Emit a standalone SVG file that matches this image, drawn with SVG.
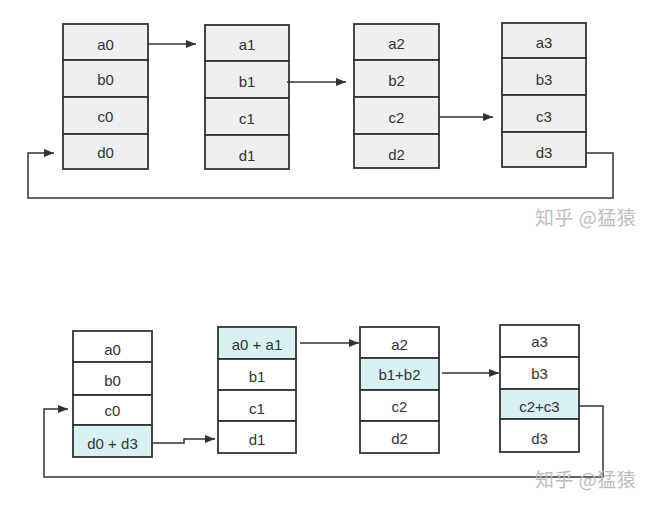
<svg xmlns="http://www.w3.org/2000/svg" width="668" height="512" viewBox="0 0 668 512">
<style>
.cell{stroke:#333;stroke-width:1.8}
.g{fill:#efefef}
.w{fill:#fff}
.c{fill:#d8f1f2}
.t{font-family:"Liberation Sans",Arial,sans-serif;font-size:15px;fill:#333;text-anchor:middle;dominant-baseline:central}
.conn{fill:none;stroke:#333;stroke-width:1.5}
.wm{font-family:"Noto Sans CJK SC","Liberation Sans",sans-serif;font-size:19px;fill:#bdbdbd;letter-spacing:0.5px}
</style>
<defs>
<marker id="ah" viewBox="0 0 10 10" refX="10" refY="5" markerWidth="10" markerHeight="10" markerUnits="userSpaceOnUse" orient="auto">
<path d="M0,1 L10,5 L0,9 Z" fill="#333"/>
</marker>
</defs>
<rect width="668" height="512" fill="#fff"/>

<g id="top0">
<rect class="cell g" x="63" y="24" width="85" height="36"/>
<rect class="cell g" x="63" y="60" width="85" height="37"/>
<rect class="cell g" x="63" y="97" width="85" height="37"/>
<rect class="cell g" x="63" y="134" width="85" height="35"/>
<text class="t" x="105.5" y="44">a0</text>
<text class="t" x="105.5" y="79">b0</text>
<text class="t" x="105.5" y="116">c0</text>
<text class="t" x="105.5" y="152">d0</text>
</g>
<g id="top1">
<rect class="cell g" x="205" y="25" width="84" height="36"/>
<rect class="cell g" x="205" y="61" width="84" height="37"/>
<rect class="cell g" x="205" y="98" width="84" height="37"/>
<rect class="cell g" x="205" y="135" width="84" height="34"/>
<text class="t" x="247" y="44">a1</text>
<text class="t" x="247" y="81">b1</text>
<text class="t" x="247" y="118">c1</text>
<text class="t" x="247" y="155">d1</text>
</g>
<g id="top2">
<rect class="cell g" x="354" y="24" width="85" height="36"/>
<rect class="cell g" x="354" y="60" width="85" height="37"/>
<rect class="cell g" x="354" y="97" width="85" height="37"/>
<rect class="cell g" x="354" y="134" width="85" height="34"/>
<text class="t" x="396.5" y="43">a2</text>
<text class="t" x="396.5" y="80">b2</text>
<text class="t" x="396.5" y="117">c2</text>
<text class="t" x="396.5" y="154">d2</text>
</g>
<g id="top3">
<rect class="cell g" x="502" y="23" width="84" height="35"/>
<rect class="cell g" x="502" y="58" width="84" height="37"/>
<rect class="cell g" x="502" y="95" width="84" height="37"/>
<rect class="cell g" x="502" y="132" width="84" height="35"/>
<text class="t" x="544" y="42">a3</text>
<text class="t" x="544" y="79">b3</text>
<text class="t" x="544" y="116">c3</text>
<text class="t" x="544" y="152">d3</text>
</g>

<g id="bot0">
<rect class="cell w" x="73" y="331" width="79" height="31"/>
<rect class="cell w" x="73" y="362" width="79" height="33"/>
<rect class="cell w" x="73" y="395" width="79" height="30"/>
<rect class="cell c" x="73" y="425" width="79" height="32"/>
<text class="t" x="112.5" y="349">a0</text>
<text class="t" x="112.5" y="380">b0</text>
<text class="t" x="112.5" y="410">c0</text>
<text class="t" x="112.5" y="443">d0 + d3</text>
</g>
<g id="bot1">
<rect class="cell c" x="218" y="327" width="78" height="32"/>
<rect class="cell w" x="218" y="359" width="78" height="31"/>
<rect class="cell w" x="218" y="390" width="78" height="31"/>
<rect class="cell w" x="218" y="421" width="78" height="32"/>
<text class="t" x="257" y="344">a0 + a1</text>
<text class="t" x="257" y="376">b1</text>
<text class="t" x="257" y="408">c1</text>
<text class="t" x="257" y="439">d1</text>
</g>
<g id="bot2">
<rect class="cell w" x="360" y="327" width="79" height="31"/>
<rect class="cell c" x="360" y="358" width="79" height="32"/>
<rect class="cell w" x="360" y="390" width="79" height="31"/>
<rect class="cell w" x="360" y="421" width="79" height="32"/>
<text class="t" x="399.5" y="344">a2</text>
<text class="t" x="399.5" y="374">b1+b2</text>
<text class="t" x="399.5" y="406">c2</text>
<text class="t" x="399.5" y="438">d2</text>
</g>
<g id="bot3">
<rect class="cell w" x="500" y="325" width="79" height="32"/>
<rect class="cell w" x="500" y="357" width="79" height="32"/>
<rect class="cell c" x="500" y="389" width="79" height="30"/>
<rect class="cell w" x="500" y="419" width="79" height="33"/>
<text class="t" x="539.5" y="341">a3</text>
<text class="t" x="539.5" y="373">b3</text>
<text class="t" x="539.5" y="406">c2+c3</text>
<text class="t" x="539.5" y="438">d3</text>
</g>

<g id="connectors">
<path class="conn" d="M148,44 H196" marker-end="url(#ah)"/>
<path class="conn" d="M287,82 H346" marker-end="url(#ah)"/>
<path class="conn" d="M439,117 H493" marker-end="url(#ah)"/>
<path class="conn" d="M586,153 H613 V198 H28 V153 H54" marker-end="url(#ah)"/>
<path class="conn" d="M300,343 H359" marker-end="url(#ah)"/>
<path class="conn" d="M442,373 H499" marker-end="url(#ah)"/>
<path class="conn" d="M152,443 H184 V439 H215" marker-end="url(#ah)"/>
<path class="conn" d="M579,406 H603 V477 H44 V409 H68" marker-end="url(#ah)"/>
</g>

<text class="wm" x="535" y="225">知乎 @猛猿</text>
<text class="wm" x="535" y="487">知乎 @猛猿</text>
</svg>
